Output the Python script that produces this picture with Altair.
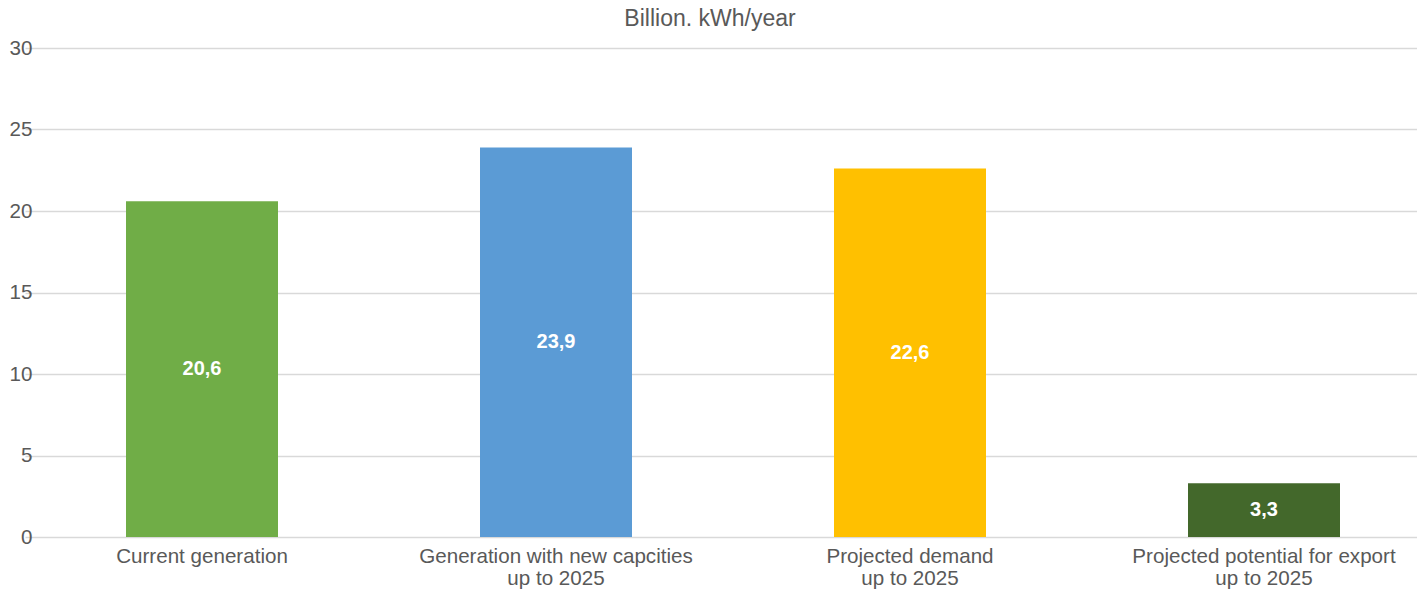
import altair as alt
import pandas as pd

title_text = "Billion. kWh/year"
categories = [
    "Current generation",
    "Generation with new capcities\nup to 2025",
    "Projected demand\nup to 2025",
    "Projected potential for export\nup to 2025",
]
values = [20.6, 23.9, 22.6, 3.3]
colors = ["#70AD47", "#5B9BD5", "#FFC000", "#43682B"]
y_ticks = [0, 5, 10, 15, 20, 25, 30]

df = pd.DataFrame({"cat": categories, "value": values, "color": colors})
title_df = pd.DataFrame({"t": [title_text]})

FONT = "Liberation Sans, Arial, sans-serif"

base = alt.Chart(df).transform_calculate(
    mid="datum.value / 2",
    lbl="replace(format(datum.value, '.1f'), '.', ',')",
)

x_enc = alt.X(
    "cat:N",
    sort=categories,
    scale=alt.Scale(range=[-25, 1391], paddingInner=0, paddingOuter=0),
    axis=alt.Axis(
        title=None,
        labelAngle=0,
        domain=False,
        ticks=False,
        labelPadding=9,
        labelFontSize=20.6,
        labelFont=FONT,
        labelColor="#595959",
        labelLimit=0,
        labelLineHeight=22,
        labelExpr="split(datum.label, '\\n')",
        labelBaseline="top",
    ),
)

bars = base.mark_bar(width=152).encode(
    x=x_enc,
    y=alt.Y(
        "value:Q",
        scale=alt.Scale(domain=[0, 30], nice=False),
        axis=alt.Axis(
            title=None,
            values=y_ticks,
            domain=False,
            ticks=False,
            grid=True,
            gridColor="#D9D9D9",
            gridWidth=1.5,
            labelPadding=18,
            labelFontSize=20.6,
            labelFont=FONT,
            labelColor="#595959",
        ),
    ),
    color=alt.Color("color:N", scale=None),
)

texts = base.mark_text(
    color="white", fontWeight="bold", fontSize=20, font=FONT, baseline="middle"
).encode(
    x=alt.X("cat:N", sort=categories),
    y=alt.Y("mid:Q"),
    text="lbl:N",
)

title = alt.Chart(title_df).mark_text(
    font=FONT, fontSize=23, color="#595959", baseline="alphabetic", align="center"
).encode(
    x=alt.value(660),
    y=alt.value(-22),
    text="t:N",
)

chart = (
    alt.layer(bars, texts, title)
    .properties(
        width=1367,
        height=489,
        autosize=alt.AutoSizeParams(type="none"),
        padding={"left": 50, "top": 48, "right": 0, "bottom": 53},
    )
    .configure_view(stroke=None)
)

chart.save("out.html", embed_options={"renderer": "svg", "actions": False})
